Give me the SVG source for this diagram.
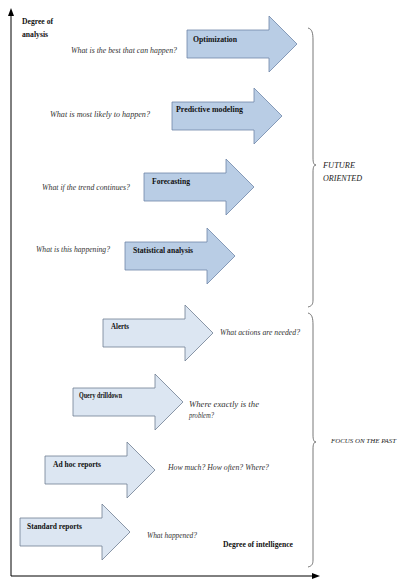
<svg xmlns="http://www.w3.org/2000/svg" width="401" height="579" viewBox="0 0 401 579">
<style>
.bg{fill:#ffffff}
.up{fill:#b9cde5;stroke:#6f87a8;stroke-width:0.8}
.lo{fill:#dce6f2;stroke:#6f7d92;stroke-width:0.8}
.lbl{font-family:"Liberation Serif","DejaVu Serif",serif;font-weight:bold;font-size:9px;fill:#111}
.q{font-family:"Liberation Serif","DejaVu Serif",serif;font-style:italic;font-size:9px;fill:#333}
.side{font-family:"Liberation Serif","DejaVu Serif",serif;font-style:italic;font-size:9px;fill:#222}
.axis{stroke:#000;stroke-width:1;fill:none}
.brace{stroke:#555;stroke-width:0.8;fill:none}
</style>
<defs>
<path id="arr" d="M0,-14 H82 V-28 L110,0 L82,28 V14 H0 Z"/>
<marker id="ah" markerUnits="userSpaceOnUse" markerWidth="8" markerHeight="6" refX="0" refY="3" orient="auto">
<path d="M0,0 L8,3 L0,6 Z" fill="#000"/>
</marker>
</defs>
<rect class="bg" x="0" y="0" width="401" height="579"/>

<g id="connectors">
<line class="axis" x1="11" y1="576" x2="11" y2="16" marker-end="url(#ah)"/>
<line class="axis" x1="11" y1="576" x2="312" y2="576" marker-end="url(#ah)"/>
<path class="brace" d="M308,28 C312,29 313,33 313,40 V158 C313,163 314,165 316,165 C314,165 313,167 313,172 V300 C313,304 312,306 308,307"/>
<path class="brace" d="M308,313 C312,314 313,318 313,325 V435 C313,440 314,442 316,442 C314,442 313,444 313,449 V560 C313,564 312,566 308,567"/>
</g>

<g id="axis-labels">
<text class="lbl" x="22" y="24" textLength="31" lengthAdjust="spacingAndGlyphs">Degree of</text>
<text class="lbl" x="22" y="37" textLength="26" lengthAdjust="spacingAndGlyphs">analysis</text>
<text class="lbl" x="223" y="547" textLength="70" lengthAdjust="spacingAndGlyphs">Degree of intelligence</text>
</g>

<g id="optimization">
<use href="#arr" class="up" transform="translate(187,44)"/>
<text class="lbl" x="193" y="42" textLength="44" lengthAdjust="spacingAndGlyphs">Optimization</text>
<text class="q" x="71" y="53" textLength="106" lengthAdjust="spacingAndGlyphs">What is the best that can happen?</text>
</g>

<g id="predictive-modeling">
<use href="#arr" class="up" transform="translate(172,116)"/>
<text class="lbl" x="176" y="112" textLength="67" lengthAdjust="spacingAndGlyphs">Predictive modeling</text>
<text class="q" x="50" y="117" textLength="100" lengthAdjust="spacingAndGlyphs">What is most likely to happen?</text>
</g>

<g id="forecasting">
<use href="#arr" class="up" transform="translate(144,187)"/>
<text class="lbl" x="152" y="184" textLength="38" lengthAdjust="spacingAndGlyphs">Forecasting</text>
<text class="q" x="42" y="190" textLength="88" lengthAdjust="spacingAndGlyphs">What if the trend continues?</text>
</g>

<g id="statistical-analysis">
<use href="#arr" class="up" transform="translate(125,256)"/>
<text class="lbl" x="133" y="253" textLength="60" lengthAdjust="spacingAndGlyphs">Statistical analysis</text>
<text class="q" x="36" y="252" textLength="74" lengthAdjust="spacingAndGlyphs">What is this happening?</text>
</g>

<g id="alerts">
<use href="#arr" class="lo" transform="translate(103,333)"/>
<text class="lbl" x="111" y="329" textLength="18" lengthAdjust="spacingAndGlyphs">Alerts</text>
<text class="q" x="220" y="335" textLength="80" lengthAdjust="spacingAndGlyphs">What actions are needed?</text>
</g>

<g id="query-drilldown">
<use href="#arr" class="lo" transform="translate(73,402)"/>
<text class="lbl" x="79" y="398" textLength="43" lengthAdjust="spacingAndGlyphs">Query drilldown</text>
<text class="q" x="189" y="407" textLength="70" lengthAdjust="spacingAndGlyphs">Where exactly is the</text>
<text class="q" x="189" y="418" textLength="25" lengthAdjust="spacingAndGlyphs">problem?</text>
</g>

<g id="ad-hoc-reports">
<use href="#arr" class="lo" transform="translate(45,470)"/>
<text class="lbl" x="53" y="467" textLength="48" lengthAdjust="spacingAndGlyphs">Ad hoc reports</text>
<text class="q" x="168" y="470" textLength="101" lengthAdjust="spacingAndGlyphs">How much? How often? Where?</text>
</g>

<g id="standard-reports">
<use href="#arr" class="lo" transform="translate(20,532)"/>
<text class="lbl" x="27" y="529" textLength="55" lengthAdjust="spacingAndGlyphs">Standard reports</text>
<text class="q" x="147" y="538" textLength="50" lengthAdjust="spacingAndGlyphs">What happened?</text>
</g>

<g id="future-oriented">
<text class="side" x="323" y="168" textLength="32" lengthAdjust="spacingAndGlyphs">FUTURE</text>
<text class="side" x="323" y="181" textLength="39" lengthAdjust="spacingAndGlyphs">ORIENTED</text>
</g>

<g id="focus-on-the-past">
<text class="side" x="331" y="443" style="font-size:7.1px" textLength="65" lengthAdjust="spacingAndGlyphs">FOCUS ON THE PAST</text>
</g>
</svg>
